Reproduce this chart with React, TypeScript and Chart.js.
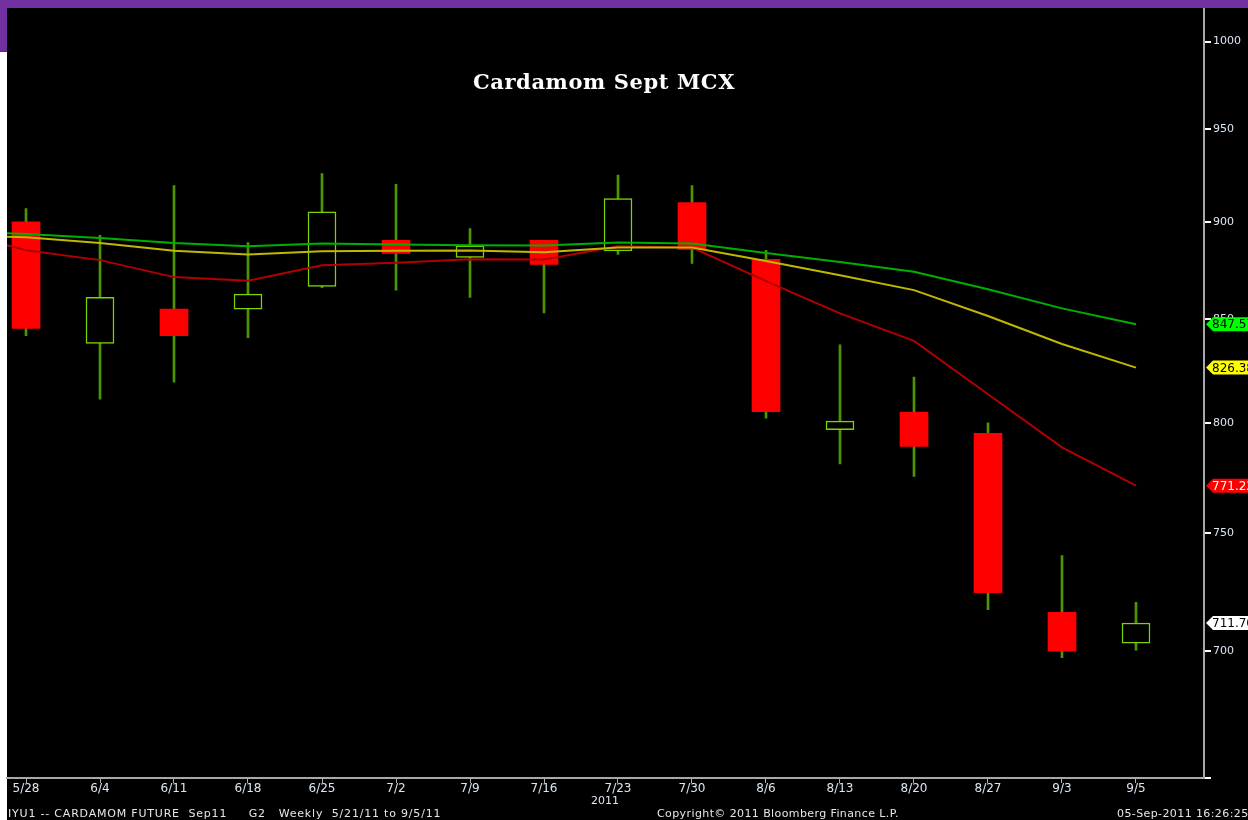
import React, { useEffect, useRef } from 'react';
import { Chart, registerables } from 'chart.js';

Chart.register(...registerables);

// ---- data ----
const weekLabels = ['5/28', '6/4', '6/11', '6/18', '6/25', '7/2', '7/9', '7/16', '7/23', '7/30', '8/6', '8/13', '8/20', '8/27', '9/3', '9/5'];
const openP = [900.0, 838.2, 855.2, 855.1, 866.6, 890.2, 881.4, 890.2, 884.8, 910.1, 880.4, 796.9, 805.1, 795.2, 716.1, 703.3];
const highP = [907.0, 892.9, 919.2, 889.1, 925.7, 919.9, 896.4, 890.2, 924.9, 919.2, 885.0, 837.5, 821.8, 800.1, 740.3, 720.4];
const lowP = [842.0, 811.3, 819.4, 841.0, 866.0, 864.7, 861.0, 853.2, 882.9, 878.3, 802.3, 781.1, 775.4, 717.3, 697.4, 700.5];
const closeP = [845.6, 861.0, 842.0, 862.7, 905.2, 883.4, 887.4, 877.8, 912.3, 885.5, 805.4, 800.9, 789.1, 724.4, 700.1, 711.7];

// moving averages (first point is the week of 5/21, just off the left edge)
const maWeeks = [-1, 0, 1, 2, 3, 4, 5, 6, 7, 8, 9, 10, 11, 12, 13, 14, 15];
const maSlow = [895.0, 893.5, 891.5, 888.9, 887.2, 888.6, 888.1, 887.7, 887.6, 889.1, 888.6, 883.7, 879.1, 874.0, 865.1, 855.5, 847.57];
const maMid = [893.0, 891.8, 888.9, 884.8, 882.9, 884.6, 884.8, 885.0, 884.1, 886.5, 886.5, 879.5, 872.3, 864.7, 851.7, 837.9, 826.38];
const maFast = [895.2, 885.1, 880.0, 871.3, 869.4, 877.4, 878.6, 880.5, 880.3, 887.2, 886.5, 869.3, 853.0, 839.4, 813.6, 788.7, 771.22];

const yTickValues = [650, 700, 750, 800, 850, 900, 950, 1000];

const titleText = 'Cardamom Sept MCX';
const axisYearText = '2011';
const footerLeft = 'IYU1 -- CARDAMOM FUTURE  Sep11     G2   Weekly  5/21/11 to 9/5/11';
const footerMid = 'Copyright\u00a9 2011 Bloomberg Finance L.P.';
const footerRight = '05-Sep-2011 16:26:25';

// ---- styles ----
const C_SLOW = '#00b000';
const C_MID = '#c0b800';
const C_FAST = '#b00000';
const C_WICK = '#4c9600';
const C_UP = '#7cd400';
const C_DOWN = '#ff0000';
const C_TICK = '#dce6f2';

const frame = {
  id: 'frame',
  beforeDraw(chart: any) {
    const { ctx, width, height } = chart;
    ctx.save();
    ctx.fillStyle = '#000000';
    ctx.fillRect(0, 0, width, height);
    ctx.fillStyle = '#ffffff';
    ctx.fillRect(0, 52, 7, height - 52);
    ctx.fillStyle = '#7030a0';
    ctx.fillRect(0, 0, width, 8);
    ctx.fillRect(0, 0, 7, 51);
    ctx.fillStyle = '#404040';
    ctx.fillRect(0, 51, 7, 1);
    ctx.restore();
  },
};

const tags = {
  id: 'tags',
  afterDraw(chart: any) {
    const { ctx } = chart;
    const y = chart.scales.y;
    const x0 = chart.chartArea.right + 2;
    const items = [
      { v: maSlow[maSlow.length - 1], bg: '#00ff00', fg: '#000000' },
      { v: maMid[maMid.length - 1], bg: '#ffff00', fg: '#000000' },
      { v: maFast[maFast.length - 1], bg: '#ff0000', fg: '#ffffff' },
      { v: closeP[closeP.length - 1], bg: '#ffffff', fg: '#000000' },
    ];
    ctx.save();
    for (const it of items) {
      const py = y.getPixelForValue(it.v);
      ctx.beginPath();
      ctx.moveTo(x0, py);
      ctx.lineTo(x0 + 7, py - 7);
      ctx.lineTo(chart.width, py - 7);
      ctx.lineTo(chart.width, py + 7);
      ctx.lineTo(x0 + 7, py + 7);
      ctx.closePath();
      ctx.fillStyle = it.bg;
      ctx.fill();
      ctx.fillStyle = it.fg;
      ctx.font = '12px "DejaVu Sans"';
      ctx.textBaseline = 'middle';
      ctx.textAlign = 'left';
      ctx.fillText(it.v.toFixed(2), x0 + 6, py + 1);
    }
    ctx.restore();
  },
};

export default function App() {
  const ref = useRef<HTMLCanvasElement>(null);

  useEffect(() => {
    if (!ref.current) return;
    const idx = weekLabels.map((_, i) => i);
    const up = (i: number) => closeP[i] >= openP[i];
    const chart = new Chart(ref.current, {
      type: 'bar',
      data: {
        datasets: [
          {
            type: 'line',
            data: maWeeks.map((w, i) => ({ x: w, y: maSlow[i] })),
            borderColor: C_SLOW,
            borderWidth: 2,
            pointRadius: 0,
            tension: 0,
            clip: 0,
            order: 0,
          } as any,
          {
            type: 'line',
            data: maWeeks.map((w, i) => ({ x: w, y: maMid[i] })),
            borderColor: C_MID,
            borderWidth: 2,
            pointRadius: 0,
            tension: 0,
            clip: 0,
            order: 0,
          } as any,
          {
            type: 'line',
            data: maWeeks.map((w, i) => ({ x: w, y: maFast[i] })),
            borderColor: C_FAST,
            borderWidth: 2,
            pointRadius: 0,
            tension: 0,
            clip: 0,
            order: 0,
          } as any,
          {
            type: 'bar',
            data: idx.map((i) => ({ x: i, y: [openP[i], closeP[i]] })),
            backgroundColor: idx.map((i) => (up(i) ? '#000000' : C_DOWN)),
            borderColor: idx.map((i) => (up(i) ? C_UP : C_DOWN)),
            borderWidth: idx.map((i) => (up(i) ? 1.5 : 0)),
            borderSkipped: false,
            barThickness: 28,
            grouped: false,
            order: 1,
          } as any,
          {
            type: 'bar',
            data: idx.map((i) => ({ x: i, y: [lowP[i], highP[i]] })),
            backgroundColor: C_WICK,
            borderWidth: 0,
            barThickness: 2,
            grouped: false,
            order: 2,
          } as any,
        ],
      },
      options: {
        animation: false,
        responsive: false,
        maintainAspectRatio: false,
        layout: { padding: { left: 7, top: 8, right: 0, bottom: 0 } },
        plugins: { legend: { display: false }, tooltip: { enabled: false }, title: { display: false } },
        scales: {
          x: {
            type: 'linear',
            min: -19 / 74,
            max: 15 + 68 / 74,
            offset: false,
            afterFit: (s: any) => {
              s.height = 42;
            },
            afterBuildTicks: (s: any) => {
              s.ticks = weekLabels.map((_, i) => ({ value: i }));
            },
            ticks: {
              autoSkip: false,
              maxRotation: 0,
              minRotation: 0,
              padding: -1,
              color: C_TICK,
              font: { family: '"DejaVu Sans"', size: 12 },
              callback: (v: any) => weekLabels[v] ?? '',
            },
            grid: {
              display: true,
              offset: false,
              drawOnChartArea: false,
              drawTicks: true,
              tickLength: 5,
              color: '#b0b0b0',
              lineWidth: 1,
            },
            border: { display: true, color: '#a8a8a8', width: 2 },
          },
          y: {
            type: 'logarithmic',
            position: 'right',
            min: 650,
            max: 1019.5,
            afterFit: (s: any) => {
              s.width = 44;
            },
            afterBuildTicks: (s: any) => {
              s.ticks = yTickValues.map((v) => ({ value: v }));
            },
            ticks: {
              autoSkip: false,
              padding: 2,
              color: C_TICK,
              font: { family: '"DejaVu Sans"', size: 11 },
              callback: (v: any) => (v === 650 ? '' : String(v)),
            },
            grid: { display: true, drawOnChartArea: false, drawTicks: true, tickLength: 7, color: '#ffffff', lineWidth: 2 },
            border: { display: true, color: '#a8a8a8', width: 2 },
          },
        },
      } as any,
      plugins: [frame, tags],
    });
    return () => chart.destroy();
  }, []);

  const footerStyle: React.CSSProperties = {
    position: 'absolute',
    top: 808,
    fontFamily: '"DejaVu Sans"',
    fontSize: 11,
    lineHeight: '11px',
    color: '#e6e6e6',
    whiteSpace: 'pre',
    letterSpacing: 0.4,
  };

  return (
    <div style={{ position: 'fixed', left: 0, top: 0, width: 1248, height: 820, overflow: 'hidden', background: '#000' }}>
      <canvas ref={ref} width={1248} height={820} style={{ display: 'block', width: 1248, height: 820 }} />
      <div
        style={{
          position: 'absolute',
          left: 304,
          width: 600,
          top: 71,
          textAlign: 'center',
          fontFamily: '"DejaVu Serif"',
          fontWeight: 'bold',
          fontSize: 21,
          lineHeight: '21px',
          color: '#ffffff',
          letterSpacing: 0.6,
        }}
      >
        {titleText}
      </div>
      <div
        style={{
          position: 'absolute',
          left: 505,
          width: 200,
          top: 795,
          textAlign: 'center',
          fontFamily: '"DejaVu Sans"',
          fontSize: 11,
          lineHeight: '11px',
          color: C_TICK,
        }}
      >
        {axisYearText}
      </div>
      <div style={{ ...footerStyle, left: 8, letterSpacing: 0.8 }}>{footerLeft}</div>
      <div style={{ ...footerStyle, left: 657 }}>{footerMid}</div>
      <div style={{ ...footerStyle, left: 1117 }}>{footerRight}</div>
    </div>
  );
}
